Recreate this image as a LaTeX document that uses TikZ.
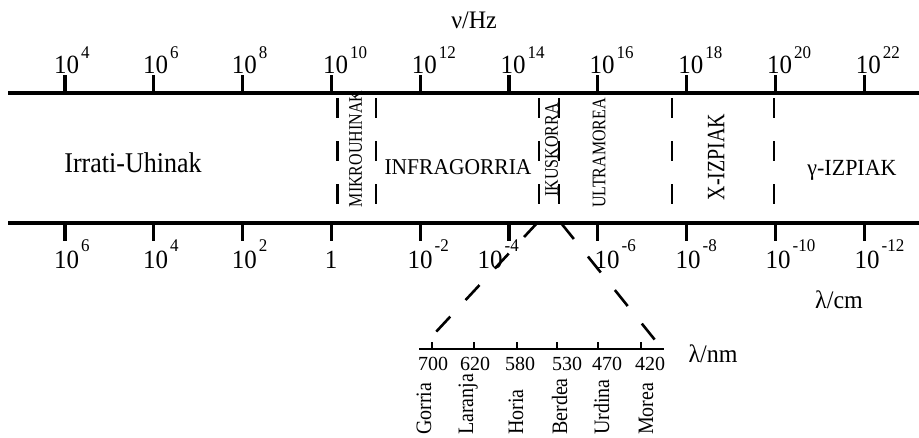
\documentclass[tikz,border=0pt]{standalone}
\usepackage{fontspec}
\setmainfont{Liberation Serif}
\newcommand\tenexp[1]{10\hspace{2pt}\raisebox{14pt}{\fontsize{17}{17}\selectfont #1}}
\newcommand\tenexpb[1]{10\hspace{2pt}\raisebox{16pt}{\fontsize{17}{17}\selectfont #1}}
\newcommand\vstr[2]{\scalebox{1}[#1]{#2}}
\begin{document}
\begin{tikzpicture}[x=1pt,y=-1pt,
  axisline/.style={line width=3.4pt},
  tickline/.style={line width=3.2pt},
  vdash/.style={line width=2.6pt, dash pattern=on 20pt off 23pt},
  zdash/.style={line width=2.6pt, dash pattern=on 20.5pt off 22.5pt},
  numlab/.style={inner sep=0pt, anchor=base west, font=\fontsize{25}{25}\selectfont},
  biglab/.style={inner sep=0pt, anchor=base},
  vlab/.style={inner sep=0pt, rotate=90, font=\fontsize{16}{16}\selectfont},
  nmlab/.style={inner sep=0pt, anchor=base, font=\fontsize{20}{20}\selectfont},
  colab/.style={inner sep=0pt, rotate=90, anchor=base west, font=\fontsize{20}{20}\selectfont}]
\useasboundingbox (0,0) rectangle (919,437);

% axes
\coordinate (ta) at (8,93);
\coordinate (tb) at (919,93);
\coordinate (ba) at (8,223);
\coordinate (bb) at (919,223);
\draw[axisline] (ta) -- (tb);
\draw[axisline] (ba) -- (bb);

% ticks
\foreach \x in {65,153.8,242.6,331.4,420.2,509,597.8,686.6,775.4,864.2}{
  \draw[tickline] (\x,75) -- (\x,93);
  \draw[tickline] (\x,223) -- (\x,241);
}

% top labels
\foreach \x/\e/\n in {66.5/4/a,155.3/6/b,244.1/8/c,335.4/10/d,424.2/12/e,513/14/f,601.8/16/g,690.6/18/h,779.4/20/i,868.2/22/j}{
  \node[numlab] (top\n) at (\x-12.5,73) {\vstr{1.05}{\tenexp{\e}}};
}
% bottom labels
\foreach \x/\e/\n in {66.5/6/a,155.3/4/b,244.1/2/c,420/-2/e,490/-4/f,607/-6/g,688/-8/h,778/-10/i,867/-12/j}{
  \node[numlab] (bot\n) at (\x-12.5,268) {\vstr{1.05}{\tenexpb{\e}}};
}
\node[inner sep=0pt, anchor=base, font=\fontsize{25}{25}\selectfont] (botd) at (331,268) {\vstr{1.05}{1}};

% axis titles
\node[biglab, font=\fontsize{24}{24}\selectfont] (nu) at (474,28) {\vstr{1.05}{ν/Hz}};
\node[biglab, font=\fontsize{24}{24}\selectfont] (lcm) at (839,308) {\vstr{1.05}{λ/cm}};
\node[biglab, font=\fontsize{24}{24}\selectfont] (lnm) at (713,362) {\vstr{1.05}{λ/nm}};

% region separators
\foreach \x in {337.5,376,539,559,672,774}{
  \draw[vdash] (\x,98) -- (\x,206);
}

% region labels
\node[biglab, font=\fontsize{26}{26}\selectfont] (radio) at (133,172) {\vstr{1.1}{Irrati-Uhinak}};
\node[biglab, font=\fontsize{21.5}{21.5}\selectfont] (ir) at (458,174) {\vstr{1.05}{INFRAGORRIA}};
\node[biglab, font=\fontsize{22}{22}\selectfont] (gam) at (852,175) {\vstr{1.05}{γ-IZPIAK}};
\node[vlab] (mik) at (355.5,149) {\vstr{1.2}{MIKROUHINAK}};
\node[vlab] (vis) at (551.5,150) {\vstr{1.2}{IKUSKORRA}};
\node[vlab] (uv) at (599,153) {\vstr{1.2}{ULTRAMOREA}};
\node[vlab, font=\fontsize{20}{20}\selectfont] (xr) at (716,157) {\vstr{1.25}{X-IZPIAK}};

% zoom lines
\coordinate (zl1) at (538,222);
\coordinate (zl2) at (435,333);
\coordinate (zr1) at (561,223);
\coordinate (zr2) at (655,340);
\draw[zdash] (zl1) -- (zl2);
\draw[zdash] (zr1) -- (zr2);

% nm axis
\coordinate (na) at (419,349);
\coordinate (nb) at (664,349);
\draw[line width=2.6pt] (na) -- (nb);
\foreach \x in {432,474,517,557,598,641}{
  \draw[line width=2.4pt] (\x,342) -- (\x,349);
}
\foreach \x/\t/\n in {433/700/a,475/620/b,520/580/c,567/530/d,607/470/e,650/420/f}{
  \node[nmlab] (nm\n) at (\x,370) {\t};
}
\foreach \x/\t/\n in {431/Gorria/a,473/Laranja/b,523/Horia/c,567/Berdea/d,609/Urdina/e,653/Morea/f}{
  \node[colab] (col\n) at (\x,435) {\vstr{1.1}{\t}};
}
\end{tikzpicture}
\end{document}
